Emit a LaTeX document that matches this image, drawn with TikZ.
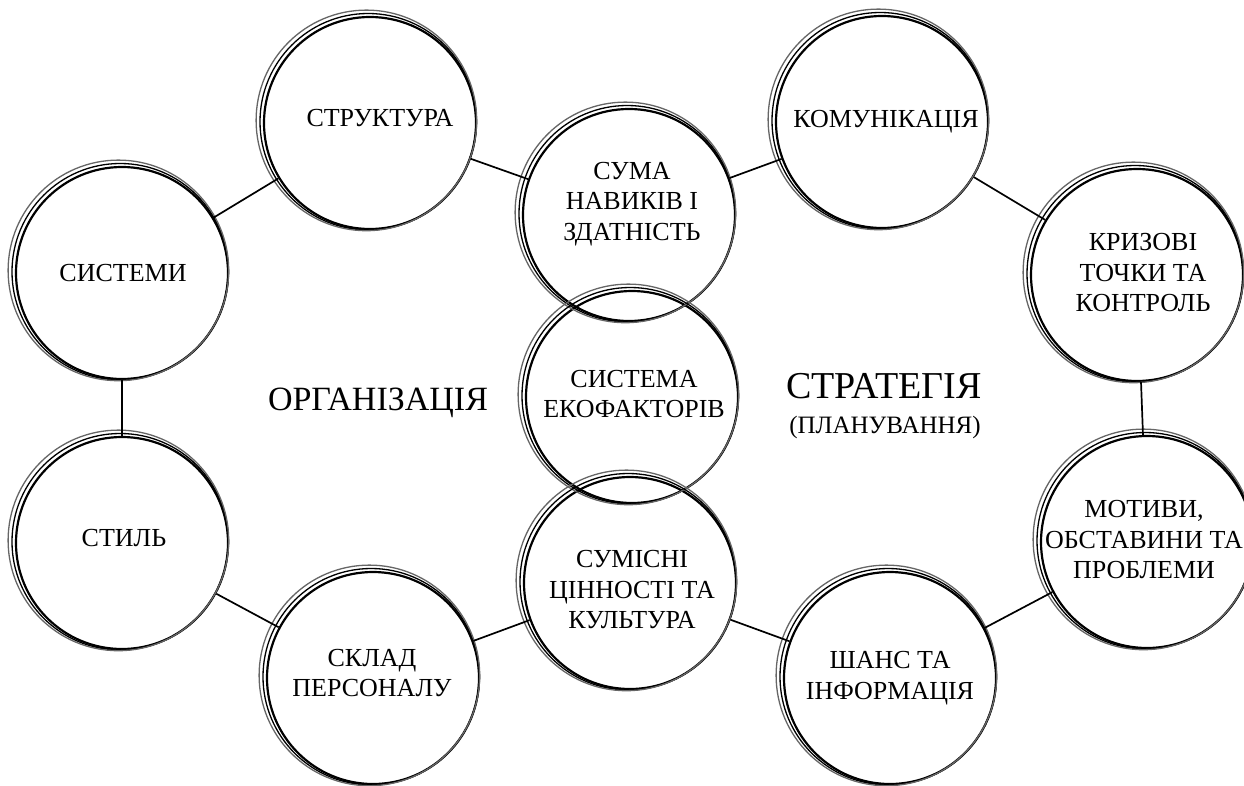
\documentclass[tikz,border=0pt]{standalone}
\usepackage{fontspec}
\setmainfont{Liberation Serif}
\begin{document}
\begin{tikzpicture}[x=1pt,y=-1pt,
  ring/.style={circle, draw=black, line width=2.2pt, minimum size=212pt, inner sep=0pt},
  ringb/.style={draw=black, line width=1.3pt},
  ringc/.style={draw=black!60, line width=1.3pt},
  txt/.style={align=center, inner sep=0pt, font=\fontsize{26}{30.5}\selectfont},
  link/.style={draw=black, line width=1.7pt},
  big/.style={font=\fontsize{38}{44}\selectfont},
  mid/.style={font=\fontsize{34}{40}\selectfont},
  sub/.style={font=\fontsize{25}{30}\selectfont}]
\useasboundingbox (0,0) rectangle (1244,785);
\node[ring] (strukt) at (370,123) {};
\node[ring] (syst) at (122,273) {};
\node[ring] (styl) at (122,543) {};
\node[ring] (sklad) at (373,678) {};
\node[ring] (suma) at (629,215) {};
\node[ring] (ekof) at (632,397) {};
\node[ring] (sumis) at (630,583) {};
\node[ring] (komun) at (882,122) {};
\node[ring] (kryz) at (1137,275) {};
\node[ring] (motyv) at (1147,542) {};
\node[ring] (shans) at (890,678) {};
\foreach \n in {strukt,syst,styl,sklad,suma,ekof,sumis,komun,kryz,motyv,shans}{
  \draw[ringb] ([xshift=-1.8pt,yshift=1.3pt]\n.center) circle (108.2pt);
  \draw[ringc] ([xshift=-3.6pt,yshift=2.6pt]\n.center) circle (110.3pt);
}
\node[txt] (strukt-t) at (380,118) {СТРУКТУРА};
\node[txt] (syst-t) at (123,273) {СИСТЕМИ};
\node[txt] (styl-t) at (124,538) {СТИЛЬ};
\node[txt] (sklad-t) at (372,673) {СКЛАД\\ПЕРСОНАЛУ};
\node[txt] (suma-t) at (632,204) {СУМА\\НАВИКІВ І\\ЗДАТНІСТЬ};
\node[txt] (ekof-t) at (634,394) {СИСТЕМА\\ЕКОФАКТОРІВ};
\node[txt] (sumis-t) at (632,590) {СУМІСНІ\\ЦІННОСТІ ТА\\КУЛЬТУРА};
\node[txt] (komun-t) at (886,122) {КОМУНІКАЦІЯ};
\node[txt] (kryz-t) at (1143,273) {КРИЗОВІ\\ТОЧКИ ТА\\КОНТРОЛЬ};
\node[txt] (motyv-t) at (1144,540) {МОТИВИ,\\ОБСТАВИНИ ТА\\ПРОБЛЕМИ};
\node[txt] (shans-t) at (890,678) {ШАНС ТА\\ІНФОРМАЦІЯ};
\draw[link] (strukt) -- (syst);
\draw[link] (strukt) -- (suma);
\draw[link] (suma) -- (komun);
\draw[link] (komun) -- (kryz);
\draw[link] (kryz) -- (motyv);
\draw[link] (motyv) -- (shans);
\draw[link] (shans) -- (sumis);
\draw[link] (sumis) -- (sklad);
\draw[link] (sklad) -- (styl);
\draw[link] (styl) -- (syst);
\node[mid] (org) at (378,403) {ОРГАНІЗАЦІЯ};
\node[big] (strat) at (884,386) {СТРАТЕГІЯ};
\node[sub] (plan) at (885,427) {(ПЛАНУВАННЯ)};
\end{tikzpicture}
\end{document}
